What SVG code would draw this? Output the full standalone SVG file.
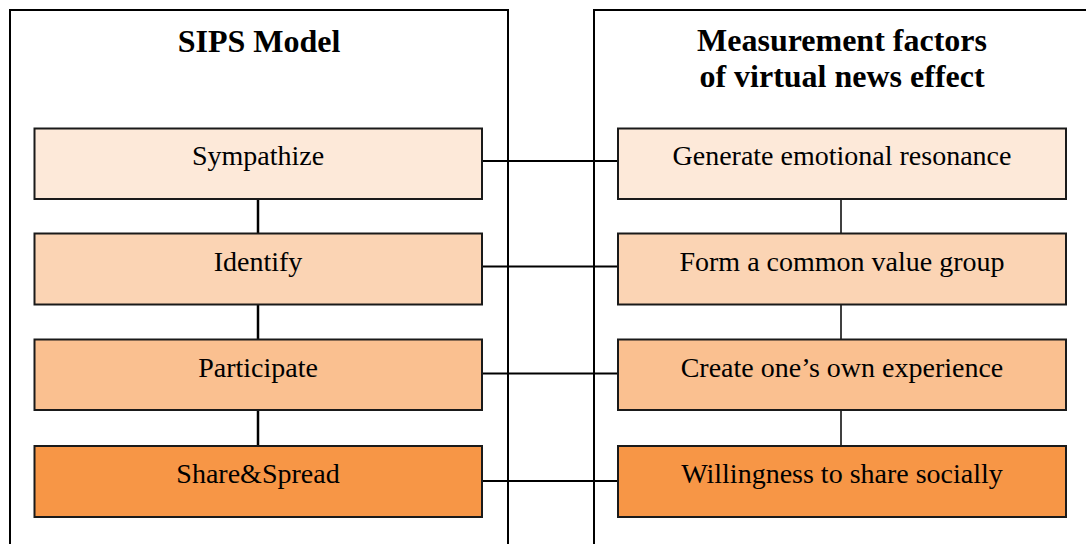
<svg xmlns="http://www.w3.org/2000/svg" width="1086" height="544" viewBox="0 0 1086 544">
<style>
.panel{fill:#fff;stroke:#000;stroke-width:2}
.box{stroke:#1a1a1a;stroke-width:2}
.c1{fill:#FDE9D9}.c2{fill:#FBD4B4}.c3{fill:#FAC090}.c4{fill:#F79646}
.lbl{font-family:"Liberation Serif","Times New Roman",serif;font-size:28px;fill:#000;text-anchor:middle}
.ttl{font-family:"Liberation Serif","Times New Roman",serif;font-size:32px;font-weight:bold;fill:#000;text-anchor:middle}
.con{stroke:#000;stroke-width:2;fill:none}
.vl{stroke:#000;stroke-width:2.5;fill:none}
.vr{stroke:#000;stroke-width:1.5;fill:none}
</style>
<rect width="1086" height="544" fill="#fff"/>
<g id="panel-left">
<rect class="panel" x="10" y="10" width="498" height="560"/>
<text class="ttl" x="259" y="52">SIPS Model</text>
</g>
<g id="panel-right">
<rect class="panel" x="594" y="10" width="520" height="560"/>
<text class="ttl" x="842" y="51">Measurement factors</text>
<text class="ttl" x="842" y="87">of virtual news effect</text>
</g>
<g id="connectors">
<line class="vl" x1="258" y1="199" x2="258" y2="233.5"/>
<line class="vl" x1="258" y1="304.5" x2="258" y2="339.5"/>
<line class="vl" x1="258" y1="410" x2="258" y2="446"/>
<line class="vr" x1="841" y1="199" x2="841" y2="233.5"/>
<line class="vr" x1="841" y1="304.5" x2="841" y2="339.5"/>
<line class="vr" x1="841" y1="410" x2="841" y2="446"/>
<line class="con" x1="482" y1="161" x2="618" y2="161"/>
<line class="con" x1="482" y1="266.5" x2="618" y2="266.5"/>
<line class="con" x1="482" y1="373.5" x2="618" y2="373.5"/>
<line class="con" x1="482" y1="481" x2="618" y2="481"/>
</g>
<g id="sympathize"><rect class="box c1" x="34.5" y="128.5" width="447.5" height="70.5"/><text class="lbl" x="258" y="165">Sympathize</text></g>
<g id="identify"><rect class="box c2" x="34.5" y="233.5" width="447.5" height="71"/><text class="lbl" x="258" y="271">Identify</text></g>
<g id="participate"><rect class="box c3" x="34.5" y="339.5" width="447.5" height="70.5"/><text class="lbl" x="258" y="377">Participate</text></g>
<g id="share-spread"><rect class="box c4" x="34.5" y="446" width="447.5" height="71"/><text class="lbl" x="258" y="483">Share&amp;Spread</text></g>
<g id="emotional-resonance"><rect class="box c1" x="618" y="128.5" width="448" height="70.5"/><text class="lbl" x="842" y="164.5">Generate emotional resonance</text></g>
<g id="common-value-group"><rect class="box c2" x="618" y="233.5" width="448" height="71"/><text class="lbl" x="842" y="270.5">Form a common value group</text></g>
<g id="own-experience"><rect class="box c3" x="618" y="339.5" width="448" height="70.5"/><text class="lbl" x="842" y="377">Create one’s own experience</text></g>
<g id="share-socially"><rect class="box c4" x="618" y="446" width="448" height="71"/><text class="lbl" x="842" y="483">Willingness to share socially</text></g>
</svg>
